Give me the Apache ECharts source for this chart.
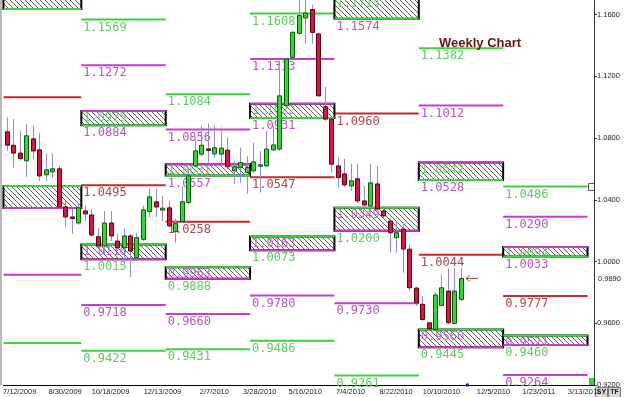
<!DOCTYPE html>
<html><head><meta charset="utf-8">
<script src="https://cdn.jsdelivr.net/npm/echarts@6/dist/echarts.min.js"></script>
<style>html,body{margin:0;padding:0;background:#fff}#c{width:625px;height:397px}</style>
</head><body><div id="c"></div>
<script>
// ---- data ----
const firstWeek = [2009, 6, 28];   // y, m, d of first weekly category
const weekCount = 91;
const tickLabels = ['7/12/2009','8/30/2009','10/18/2009','12/13/2009','2/7/2010','3/28/2010','5/16/2010','7/4/2010','8/22/2010','10/10/2010','12/5/2010','1/23/2011','3/13/2011'];
// weekly candles: [open, close, low, high]
const candles = [
[1.0841,1.0754,1.0718,1.0934],[1.0754,1.0703,1.0609,1.0923],[1.0703,1.0668,1.0653,1.0847],[1.0653,1.0815,1.0549,1.0893],
[1.0795,1.0717,1.0666,1.0880],[1.0724,1.0555,1.0523,1.0834],[1.0562,1.0594,1.0523,1.0698],[1.0581,1.0601,1.0542,1.0698],
[1.0601,1.0354,1.0341,1.0620],[1.0354,1.0289,1.0224,1.0393],[1.0289,1.0283,1.0179,1.0341],[1.0250,1.0348,1.0237,1.0374],
[1.0328,1.0309,1.0263,1.0361],[1.0302,1.0172,1.0159,1.0341],[1.0161,1.0101,1.0081,1.0218],[1.0101,1.0250,1.0049,1.0328],
[1.0250,1.0166,1.0133,1.0328],[1.0133,1.0090,1.0068,1.0179],[1.0090,1.0166,0.9984,1.0218],[1.0166,1.0068,0.9900,1.0179],
[1.0025,1.0155,1.0017,1.0185],[1.0144,1.0335,1.0133,1.0361],[1.0324,1.0419,1.0285,1.0477],[1.0387,1.0354,1.0289,1.0477],
[1.0333,1.0346,1.0263,1.0425],[1.0348,1.0231,1.0220,1.0393],[1.0194,1.0246,1.0122,1.0276],[1.0259,1.0388,1.0252,1.0490],
[1.0382,1.0555,1.0374,1.0601],[1.0620,1.0717,1.0609,1.0782],[1.0696,1.0754,1.0685,1.0880],[1.0730,1.0727,1.0633,1.0893],
[1.0698,1.0737,1.0672,1.0880],[1.0696,1.0735,1.0633,1.0869],[1.0722,1.0614,1.0601,1.0804],[1.0588,1.0614,1.0503,1.0653],
[1.0609,1.0642,1.0512,1.0739],[1.0577,1.0609,1.0438,1.0685],[1.0588,1.0646,1.0575,1.0771],[1.0620,1.0627,1.0447,1.0717],
[1.0620,1.0729,1.0614,1.0847],[1.0724,1.0756,1.0717,1.0880],[1.0729,1.1074,1.0717,1.1302],[1.1010,1.1313,1.1003,1.1321],
[1.1323,1.1485,1.1315,1.1496],[1.1479,1.1594,1.1470,1.1700],[1.1579,1.1611,1.1412,1.1705],[1.1633,1.1485,1.1412,1.1665],
[1.1475,1.1074,1.1068,1.1483],[1.1003,1.0923,1.0912,1.1133],[1.0923,1.0631,1.0577,1.0932],[1.0620,1.0544,1.0479,1.0674],
[1.0568,1.0497,1.0484,1.0666],[1.0490,1.0523,1.0458,1.0633],[1.0536,1.0393,1.0380,1.0633],[1.0393,1.0367,1.0354,1.0490],
[1.0361,1.0510,1.0354,1.0633],[1.0503,1.0341,1.0335,1.0620],[1.0328,1.0296,1.0276,1.0361],[1.0263,1.0187,1.0057,1.0285],
[1.0155,1.0187,1.0057,1.0263],[1.0211,1.0081,0.9928,1.0252],[1.0080,0.9830,0.9809,1.0114],[0.9828,0.9733,0.9712,0.9835],
[0.9723,0.9625,0.9614,0.9776],[0.9603,0.9564,0.9556,0.9608],[0.9560,0.9783,0.9556,0.9798],[0.9716,0.9830,0.9712,0.9917],
[0.9809,0.9603,0.9595,0.9956],[0.9599,0.9809,0.9593,0.9956],[0.9755,0.9890,0.9744,0.9960]
];
const lastPrice = 0.9890;
const nextWeekIndex = 71;
// level lines: [startWeek, endWeek, value, kind(g/m/r), label]
const levelLines = [
[0,12,1.1065,'r',null],[0,12,0.9915,'m',null],[0,12,0.9472,'g',null],
[12,25,1.1569,'g','1.1569'],[12,25,1.1272,'m','1.1272'],[12,25,1.0495,'r','1.0495'],[12,25,0.9718,'m','0.9718'],[12,25,0.9422,'g','0.9422'],
[25,38,1.1084,'g','1.1084'],[25,38,1.0856,'m','1.0856'],[25,38,1.0258,'r','1.0258'],[25,38,0.9660,'m','0.9660'],[25,38,0.9431,'g','0.9431'],
[38,51,1.1608,'g','1.1608'],[38,51,1.1313,'m','1.1313'],[38,51,1.0547,'r','1.0547'],[38,51,0.9780,'m','0.9780'],[38,51,0.9486,'g','0.9486'],
[51,64,1.0960,'r','1.0960'],[51,64,0.9730,'m','0.9730'],[51,64,0.9261,'g','0.9261'],
[64,77,1.1382,'g','1.1382'],[64,77,1.1012,'m','1.1012'],[64,77,1.0044,'r','1.0044'],
[77,90,1.0486,'g','1.0486'],[77,90,1.0290,'m','1.0290'],[77,90,0.9777,'r','0.9777'],[77,90,0.9264,'m','0.9264']
];
// zones: [startWeek, endWeek, low, high, type(u/l), insideLabel, belowLabel]
const zones = [
[0,12,1.1637,1.1760,'u',null,null],[0,12,1.0347,1.0490,'l',null,null],
[12,25,1.0884,1.0975,'u','1.0975','1.0884'],[12,25,1.0015,1.0110,'l','1.0110','1.0015'],
[25,38,1.0557,1.0631,'u','1.0631','1.0557'],[25,38,0.9888,0.9963,'l','0.9963','0.9888'],
[38,51,1.0931,1.1022,'u','1.1022','1.0931'],[38,51,1.0073,1.0163,'l','1.0163','1.0073'],
[51,64,1.1574,1.1714,'u','1.1714','1.1574'],[51,64,1.0200,1.0349,'l','1.0349','1.0200'],
[64,77,1.0528,1.0642,'u','1.0642','1.0528'],[64,77,0.9445,0.9560,'l','0.9560','0.9445'],
[77,90,1.0033,1.0094,'u','1.0094','1.0033'],[77,90,0.9460,0.9521,'l','0.9521','0.9460']
];

// ---- build ----
const categories = [];
for (let k = 0; k < weekCount; k++) {
  const d = new Date(Date.UTC(firstWeek[0], firstWeek[1] - 1, firstWeek[2] + 7 * k));
  categories.push((d.getUTCMonth() + 1) + '/' + d.getUTCDate() + '/' + d.getUTCFullYear());
}
const KIND = {
  g: { line: '#3fd03f', text: '#62c862' },
  m: { line: '#c63ec8', text: '#b455c4' },
  r: { line: '#c62a2a', text: '#a64848' }
};
const LBL_FONT = '12px "DejaVu Sans Mono", monospace';

function hatch() {
  const c = document.createElement('canvas');
  c.width = c.height = 5;
  const g = c.getContext('2d');
  g.fillStyle = '#fff'; g.fillRect(0, 0, 5, 5);
  g.strokeStyle = '#333'; g.lineWidth = 0.8;
  g.beginPath();
  g.moveTo(-1, -1); g.lineTo(6, 6);
  g.moveTo(-1, 4); g.lineTo(1, 6);
  g.moveTo(4, -1); g.lineTo(6, 1);
  g.stroke();
  return c;
}
const hatchImg = hatch();

function bounds(api, s, e, v) {
  const w = api.size([1, 0])[0];
  const a = api.coord([s, v]), b = api.coord([e, v]);
  return [a[0] - w / 2, b[0] - w / 2, a[1]];
}

const chart = echarts.init(document.getElementById('c'), null, { renderer: 'canvas' });
chart.setOption({
  animation: false,
  backgroundColor: '#fff',
  title: { text: 'Weekly Chart', left: 434, top: 32,
    textStyle: { fontSize: 13, fontWeight: 'bold', color: '#6d1212', fontFamily: '"Liberation Sans", Arial' } },
  grid: { left: 3, right: 31, top: 0, bottom: 12 },
  xAxis: {
    type: 'category', data: categories, boundaryGap: true,
    axisLine: { lineStyle: { color: '#000', width: 1 } },
    axisTick: { show: false },
    axisLabel: { interval: (i, v) => tickLabels.indexOf(v) >= 0, fontSize: 7.5, color: '#222', margin: 3,
      fontFamily: '"Liberation Sans", Arial' },
    splitLine: { show: false }
  },
  yAxis: {
    type: 'value', position: 'right', min: 0.92, max: 1.1695, interval: 0.04,
    axisLine: { show: true, lineStyle: { color: '#333' } },
    axisTick: { show: true, length: 3, lineStyle: { color: '#333' } },
    axisLabel: { fontSize: 7.5, color: '#222', margin: 3, showMaxLabel: false,
      fontFamily: '"Liberation Sans", Arial', formatter: v => v.toFixed(4) },
    splitLine: { show: false }
  },
  series: [
    { // level lines
      type: 'custom', z: 2,
      data: levelLines.map(r => [r[0], r[1], r[2]]),
      encode: { x: [0, 1], y: 2 },
      renderItem: (params, api) => {
        const r = levelLines[params.dataIndex];
        const [x0, x1, y] = bounds(api, r[0], r[1], r[2]);
        const k = KIND[r[3]];
        const ch = [{ type: 'line', shape: { x1: x0, y1: y, x2: x1, y2: y }, style: { stroke: k.line, lineWidth: 2 } }];
        if (r[4]) ch.push({ type: 'text', style: { x: x0 + 2, y: y + 2, text: r[4], fill: k.text, font: LBL_FONT, textVerticalAlign: 'top' } });
        return { type: 'group', children: ch };
      }
    },
    { // hatched zones
      type: 'custom', z: 3,
      data: zones.map(r => [r[0], r[1], r[2], r[3]]),
      encode: { x: [0, 1], y: [2, 3] },
      renderItem: (params, api) => {
        const r = zones[params.dataIndex];
        const [x0, x1, yl] = bounds(api, r[0], r[1], r[2]);
        const yh = api.coord([r[0], r[3]])[1];
        const up = r[4] === 'u';
        const topK = up ? KIND.m : KIND.g, botK = up ? KIND.g : KIND.m;
        const ch = [
          { type: 'rect', shape: { x: x0, y: yh, width: x1 - x0, height: yl - yh },
            style: { fill: { image: hatchImg, repeat: 'repeat' }, stroke: '#000', lineWidth: 2 } },
          { type: 'line', shape: { x1: x0, y1: yh, x2: x1, y2: yh }, style: { stroke: topK.line, lineWidth: 2 } },
          { type: 'line', shape: { x1: x0, y1: yl, x2: x1, y2: yl }, style: { stroke: botK.line, lineWidth: 2 } }
        ];
        if (r[5]) ch.push({ type: 'text', style: { x: x0 + 2, y: yh + 1, text: r[5], fill: botK.text, opacity: 0.85, font: LBL_FONT, textVerticalAlign: 'top' } });
        if (r[6]) ch.push({ type: 'text', style: { x: x0 + 2, y: yl + 2, text: r[6], fill: topK.text, font: LBL_FONT, textVerticalAlign: 'top' } });
        return { type: 'group', children: ch };
      }
    },
    { // candles
      type: 'custom', z: 5,
      data: candles.map((c, i) => [i, c[0], c[1], c[2], c[3]]),
      encode: { x: 0, y: [1, 2, 3, 4] },
      renderItem: (params, api) => {
        const i = api.value(0);
        const o = api.coord([i, api.value(1)]), c = api.coord([i, api.value(2)]);
        const l = api.coord([i, api.value(3)]), h = api.coord([i, api.value(4)]);
        const x = Math.round(o[0]) + 0.5;
        const bull = api.value(2) >= api.value(1);
        const top = Math.min(o[1], c[1]), bot = Math.max(o[1], c[1]);
        return { type: 'group', children: [
          { type: 'line', shape: { x1: x, y1: h[1], x2: x, y2: l[1] }, style: { stroke: '#8e8ed0', lineWidth: 1 } },
          { type: 'rect', shape: { x: x - 2, y: top, width: 4, height: Math.max(1.5, bot - top) },
            style: { fill: bull ? '#2fd82f' : '#d81540', stroke: bull ? '#0d5a0d' : '#5a0010', lineWidth: 1 } }
        ] };
      }
    },
    { // last price marker + label
      type: 'custom', z: 6,
      data: [[candles.length - 1, lastPrice]],
      encode: { x: 0, y: 1 },
      renderItem: (params, api) => {
        const p = api.coord([api.value(0), api.value(1)]);
        const cs = params.coordSys;
        const ax = p[0] + 5, y = p[1];
        return { type: 'group', children: [
          { type: 'line', shape: { x1: ax, y1: y, x2: ax + 12, y2: y }, style: { stroke: '#b04848', lineWidth: 1 } },
          { type: 'polyline', shape: { points: [[ax + 4, y - 3], [ax, y], [ax + 4, y + 3]] }, style: { stroke: '#b04848', lineWidth: 1, fill: null } },
          { type: 'text', style: { x: cs.x + cs.width + 4, y: y, text: api.value(1).toFixed(4), fill: '#222',
            font: '7.5px "Liberation Sans", Arial', textVerticalAlign: 'middle' } }
        ] };
      }
    },
    { // next-week marker on time axis
      type: 'custom', z: 6,
      data: [[nextWeekIndex, 0.92]],
      encode: { x: 0, y: 1 },
      renderItem: (params, api) => {
        const p = api.coord([api.value(0), api.value(1)]);
        return { type: 'rect', shape: { x: p[0] - 1.5, y: p[1] - 1.5, width: 3, height: 3 }, style: { fill: '#1a1a8c' } };
      }
    }
  ],
  graphic: [
    { type: 'rect', left: 0, top: 0, shape: { width: 2, height: 385 }, style: { fill: '#b9b9b9' } },
    { type: 'rect', left: 588, top: 183, shape: { width: 6, height: 7 }, style: { fill: '#fff', stroke: '#555', lineWidth: 1 } },
    { type: 'rect', left: 589, top: 378, shape: { width: 5, height: 7 }, style: { fill: '#2fd82f' } },
    { type: 'group', left: 595, top: 387, children: [
      { type: 'rect', shape: { x: 0, y: 0, width: 12, height: 10 }, style: { fill: '#d8d8d8', stroke: '#777' } },
      { type: 'text', style: { x: 6, y: 5, text: 'SY', fill: '#222', font: 'bold 7px "Liberation Sans"', textAlign: 'center', textVerticalAlign: 'middle' } },
      { type: 'rect', shape: { x: 13, y: 0, width: 12, height: 10 }, style: { fill: '#d8d8d8', stroke: '#777' } },
      { type: 'text', style: { x: 19, y: 5, text: 'TF', fill: '#222', font: 'bold 7px "Liberation Sans"', textAlign: 'center', textVerticalAlign: 'middle' } }
    ] }
  ]
});
</script>
</body></html>
